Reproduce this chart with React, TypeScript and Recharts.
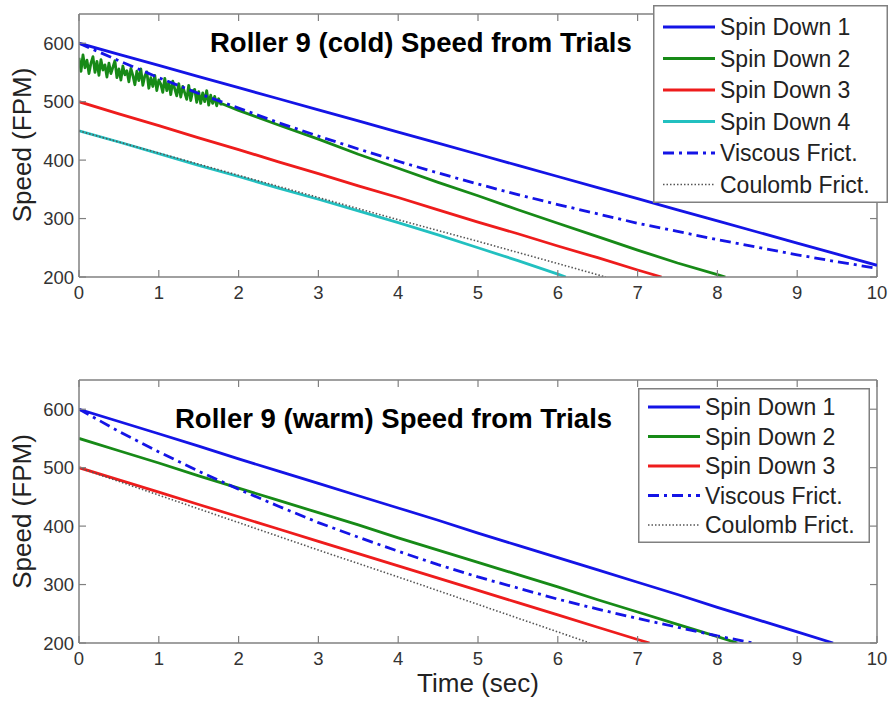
import React from 'react';
import { LineChart, Line, XAxis, YAxis, ReferenceLine, Legend, Customized } from 'recharts';

// ---------- data ----------
const xTicks = [0, 1, 2, 3, 4, 5, 6, 7, 8, 9, 10];
const yTicks = [200, 300, 400, 500, 600];
const xDomain = [0, 10];
const yDomain = [200, 650];

const coldTitle = 'Roller 9 (cold)  Speed from Trials';
const warmTitle = 'Roller 9 (warm) Speed from Trials';
const yLabel = 'Speed (FPM)';
const xLabel = 'Time (sec)';

// cold
const coldSpin1 = [[0,600],[0.5,581],[1,562],[1.5,543],[2,524],[2.5,505],[3,486],[3.5,467],[4,448],[4.5,429],[5,410],[5.5,391],[6,372],[6.5,353],[7,334],[7.5,315],[8,296],[8.5,277],[9,258],[9.5,239],[10,220]];
const coldSpin2 = [
  [0,575],[0.025,552],[0.05,580],[0.075,558],[0.1,571],[0.125,548],[0.15,566],[0.175,577],[0.2,550],[0.225,569],
  [0.25,545],[0.275,572],[0.3,554],[0.325,563],[0.35,542],[0.375,566],[0.4,548],[0.425,559],[0.45,570],[0.475,541],
  [0.5,556],[0.525,537],[0.55,561],[0.575,546],[0.6,553],[0.625,534],[0.65,557],[0.675,545],[0.7,529],[0.725,552],
  [0.75,536],[0.775,556],[0.8,528],[0.825,544],[0.85,551],[0.875,523],[0.9,541],[0.925,526],[0.95,545],[0.975,519],
  [1,537],[1.025,530],[1.05,516],[1.075,540],[1.1,519],[1.125,533],[1.15,512],[1.175,535],[1.2,522],[1.225,510],
  [1.25,531],[1.275,508],[1.3,526],[1.325,515],[1.35,504],[1.375,528],[1.4,502],[1.425,518],[1.45,521],[1.475,499],
  [1.5,517],[1.525,497],[1.55,515],[1.575,500],[1.6,519],[1.625,494],[1.65,511],[1.675,497],[1.7,509],[1.725,493],
  [1.75,505],[1.775,496],[1.8,496],
  [2,485],[2.5,460],[3,436],[3.5,410],[4,386],[4.5,362],[5,339],[5.5,315],[6,292],[6.5,269],[7,246],[7.5,224],[8,204],[8.1,200]
];
const coldSpin3 = [[0,500],[0.5,479],[1,459],[1.5,438],[2,418],[2.5,397],[3,377],[3.5,356],[4,336],[4.5,315],[5,294],[5.5,274],[6,253],[6.5,233],[7,212],[7.3,200]];
const coldSpin4 = [[0,450],[0.5,431],[1,411],[1.5,391],[2,372],[2.5,352],[3,333],[3.5,313],[4,293],[4.5,272],[5,250],[5.5,228],[6,205],[6.1,200]];
const coldViscous = [[0,600],[0.5,570],[1,541],[1.5,514],[2,489],[2.5,464],[3,441],[3.5,419],[4,398],[4.5,378],[5,359],[5.5,341],[6,324],[6.5,308],[7,292],[7.5,278],[8,264],[8.5,251],[9,238],[9.5,226],[10,215]];
const coldCoulomb = [[0,450],[1,412],[2,374],[3,336],[4,298],[5,261],[6,223],[6.6,200]];

// warm
const warmSpin1 = [[0,600],[0.5,579],[1,558],[1.5,537],[2,515],[2.5,494],[3,473],[3.5,452],[4,431],[4.5,410],[5,388],[5.5,367],[6,346],[6.5,325],[7,304],[7.5,283],[8,261],[8.5,240],[9,219],[9.45,200]];
const warmSpin2 = [[0,550],[0.5,529],[1,508],[1.5,486],[2,465],[2.5,444],[3,423],[3.5,402],[4,380],[4.5,359],[5,338],[5.5,317],[6,296],[6.5,274],[7,253],[7.5,232],[8,211],[8.25,200]];
const warmSpin3 = [[0,500],[0.5,479],[1,458],[1.5,437],[2,416],[2.5,395],[3,374],[3.5,353],[4,332],[4.5,311],[5,290],[5.5,269],[6,248],[6.5,227],[7,206],[7.15,200]];
const warmViscous = [[0,600],[0.5,562],[1,527],[1.5,494],[2,463],[2.5,434],[3,406],[3.5,381],[4,357],[4.5,334],[5,313],[5.5,294],[6,275],[6.5,258],[7,242],[7.5,227],[8,212],[8.45,200]];
const warmCoulomb = [[0,500],[1,453],[2,406],[3,359],[4,313],[5,266],[6,219],[6.4,200]];

const coldNames = ['Spin Down 1', 'Spin Down 2', 'Spin Down 3', 'Spin Down 4', 'Viscous Frict.', 'Coulomb Frict.'];
const warmNames = ['Spin Down 1', 'Spin Down 2', 'Spin Down 3', 'Viscous Frict.', 'Coulomb Frict.'];

// ---------- styles ----------
const FONT = '"Liberation Sans", Arial, Helvetica, sans-serif';
const AXIS = '#808080';
const STYLE: Record<string, { color: string; width: number; dash?: string }> = {
  'Spin Down 1': { color: '#1414e6', width: 2.8 },
  'Spin Down 2': { color: '#178a17', width: 2.8 },
  'Spin Down 3': { color: '#ee1c1c', width: 2.8 },
  'Spin Down 4': { color: '#22c0c0', width: 2.8 },
  'Viscous Frict.': { color: '#1414e6', width: 2.8, dash: '11 5 3 5' },
  'Coulomb Frict.': { color: '#555555', width: 1.6, dash: '1.5 2' },
};

const toPts = (arr: number[][]) => arr.map(([t, v]) => ({ t, v }));

const W = 889;

function makeXTick(top: number, bottom: number) {
  return (props: any) => {
    const { x, payload } = props;
    return (
      <g>
        <line x1={x} x2={x} y1={bottom} y2={bottom - 7} stroke={AXIS} strokeWidth={1.2} />
        <line x1={x} x2={x} y1={top} y2={top + 7} stroke={AXIS} strokeWidth={1.2} />
        <text x={x} y={bottom + 15} textAnchor="middle" dominantBaseline="central"
          fontFamily={FONT} fontSize={18.5} fill="#333">{payload.value}</text>
      </g>
    );
  };
}

function makeYTick(left: number, right: number) {
  return (props: any) => {
    const { y, payload } = props;
    return (
      <g>
        <line x1={left} x2={left + 7} y1={y} y2={y} stroke={AXIS} strokeWidth={1.2} />
        <line x1={right} x2={right - 7} y1={y} y2={y} stroke={AXIS} strokeWidth={1.2} />
        <text x={left - 5} y={y} textAnchor="end" dominantBaseline="central"
          fontFamily={FONT} fontSize={18.5} fill="#333">{payload.value}</text>
      </g>
    );
  };
}

function LegendBox({ names, width, height, firstY, step }: { names: string[]; width: number; height: number; firstY: number; step: number }) {
  return (
    <svg width={width} height={height} style={{ display: 'block' }}>
      <rect x={0.75} y={0.75} width={width - 1.5} height={height - 1.5} fill="#fff" stroke={AXIS} strokeWidth={1.5} />
      {names.map((n, i) => {
        const s = STYLE[n];
        const cy = firstY + i * step;
        return (
          <g key={n}>
            <line x1={10} x2={62} y1={cy} y2={cy} stroke={s.color} strokeWidth={s.width} strokeDasharray={s.dash} />
            <text x={67} y={cy} dominantBaseline="central" fontFamily={FONT} fontSize={23} fill="#222">{n}</text>
          </g>
        );
      })}
    </svg>
  );
}

function Panel(props: {
  height: number; top: number; mTop: number; mBottom: number; xAxisH: number;
  series: { name: string; data: number[][] }[];
  names: string[]; legend: { left: number; top: number; width: number; height: number; firstY: number; step: number };
  title: string; titleX: number; titleY: number; yLabelY: number; showXLabel: boolean; xLabelY?: number;
}) {
  const left = 79;
  const right = W - 12;
  const plotTop = props.mTop;
  const plotBottom = props.height - props.mBottom - props.xAxisH;
  const Overlay = () => (
    <g>
      <text x={props.titleX} y={props.titleY} fontFamily={FONT} fontWeight="bold" fontSize={27.5} fill="#000">{props.title}</text>
      <text transform={`translate(22,${props.yLabelY}) rotate(-90)`} textAnchor="middle" dominantBaseline="central"
        fontFamily={FONT} fontSize={26} fill="#222">{yLabel}</text>
      {props.showXLabel && (
        <text x={(left + right) / 2} y={props.xLabelY} textAnchor="middle" fontFamily={FONT} fontSize={26} fill="#222">{xLabel}</text>
      )}
    </g>
  );
  return (
    <div style={{ position: 'absolute', left: 0, top: props.top, width: W, height: props.height }}>
      <LineChart width={W} height={props.height} margin={{ top: props.mTop, right: 12, bottom: props.mBottom, left: 0 }}>
        <XAxis dataKey="t" type="number" domain={xDomain} ticks={xTicks} interval={0} height={props.xAxisH}
          allowDataOverflow axisLine={{ stroke: AXIS, strokeWidth: 1.5 }} tickLine={false} tick={makeXTick(plotTop, plotBottom)} />
        <YAxis type="number" domain={yDomain} ticks={yTicks} interval={0} width={left} allowDataOverflow
          axisLine={{ stroke: AXIS, strokeWidth: 1.5 }} tickLine={false} tick={makeYTick(left, right)} />
        <ReferenceLine y={650} stroke={AXIS} strokeWidth={1.5} />
        <ReferenceLine x={10} stroke={AXIS} strokeWidth={1.5} />
        {props.series.map((s) => {
          const st = STYLE[s.name];
          return (
            <Line key={s.name} name={s.name} data={toPts(s.data)} dataKey="v" type="linear" dot={false}
              stroke={st.color} strokeWidth={st.width} strokeDasharray={st.dash} strokeLinejoin="round" isAnimationActive={false} />
          );
        })}
        <Customized component={Overlay} />
        <Legend layout="vertical" align="center" verticalAlign="middle"
          wrapperStyle={{ left: props.legend.left, top: props.legend.top, width: props.legend.width, height: props.legend.height }}
          content={() => (
            <LegendBox names={props.names} width={props.legend.width} height={props.legend.height}
              firstY={props.legend.firstY} step={props.legend.step} />
          )} />
      </LineChart>
    </div>
  );
}

export default function App() {
  const coldSeries = [
    { name: 'Spin Down 1', data: coldSpin1 },
    { name: 'Spin Down 2', data: coldSpin2 },
    { name: 'Spin Down 3', data: coldSpin3 },
    { name: 'Spin Down 4', data: coldSpin4 },
    { name: 'Viscous Frict.', data: coldViscous },
    { name: 'Coulomb Frict.', data: coldCoulomb },
  ];
  const warmSeries = [
    { name: 'Spin Down 1', data: warmSpin1 },
    { name: 'Spin Down 2', data: warmSpin2 },
    { name: 'Spin Down 3', data: warmSpin3 },
    { name: 'Viscous Frict.', data: warmViscous },
    { name: 'Coulomb Frict.', data: warmCoulomb },
  ];
  return (
    <div style={{ position: 'absolute', left: 0, top: 0, width: W, height: 702, background: '#fff', overflow: 'hidden' }}>
      <Panel height={320} top={0} mTop={14} mBottom={13} xAxisH={30} series={coldSeries} names={coldNames}
        legend={{ left: 653, top: 5, width: 235, height: 198, firstY: 22, step: 31.5 }}
        title={coldTitle} titleX={210} titleY={52} yLabelY={145} showXLabel={false} />
      <Panel height={362} top={340} mTop={40} mBottom={9} xAxisH={50} series={warmSeries} names={warmNames}
        legend={{ left: 638, top: 48, width: 232, height: 155, firstY: 19, step: 29.5 }}
        title={warmTitle} titleX={175} titleY={88} yLabelY={171.5} showXLabel xLabelY={352} />
    </div>
  );
}
